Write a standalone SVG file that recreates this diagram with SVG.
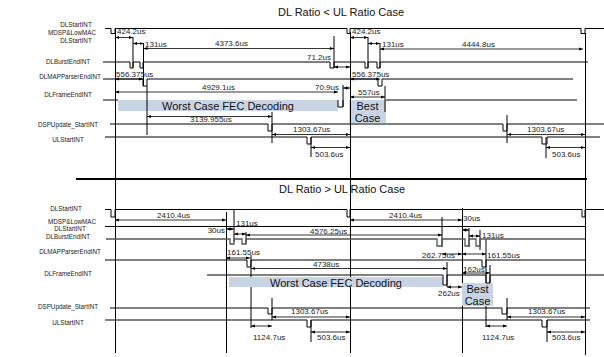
<svg xmlns="http://www.w3.org/2000/svg" width="604" height="357" viewBox="0 0 604 357">
<defs>
<marker id="a" markerWidth="4" markerHeight="4" refX="4" refY="2" orient="auto-start-reverse" markerUnits="userSpaceOnUse"><path d="M0,0.6 L4,2 L0,3.4 z" fill="#000"/></marker>
<style>
.s{fill:none;stroke:#000;stroke-width:1}
.g{fill:none;stroke:#555;stroke-width:1.3}
.d{fill:none;stroke:#000;stroke-width:0.8;marker-start:url(#a);marker-end:url(#a)}
.t{font-family:"Liberation Sans",Arial,sans-serif;font-size:11px;fill:#111;text-anchor:middle}
.l{font-family:"Liberation Sans",Arial,sans-serif;font-size:6.3px;fill:#222;text-anchor:middle}
.m{font-family:"Liberation Sans",Arial,sans-serif;font-size:8px;fill:#222}
.b{fill:#c8d4e4}
</style>
</defs>
<rect width="604" height="357" fill="#fff"/>

<g id="top-title"><text class="t" x="341" y="16">DL Ratio &lt; UL Ratio Case</text></g>
<g id="top-labels">
<text class="l" x="76" y="27">DLStartINT</text>
<text class="l" x="72" y="35">MDSP&amp;LowMAC</text>
<text class="l" x="76" y="42.5">DLStartINT</text>
<text class="l" x="68" y="64">DLBurstEndINT</text>
<text class="l" x="70" y="79">DLMAPParserEndINT</text>
<text class="l" x="68" y="97">DLFrameEndINT</text>
<text class="l" x="68" y="127">DSPUpdate_StartINT</text>
<text class="l" x="68" y="142">ULStartINT</text>
</g>

<g id="top-boxes">
<rect class="b" x="118" y="100" width="220" height="11"/>
<rect class="b" x="349" y="100" width="37" height="23"/>
</g>

<g id="top-signals">
<path class="s" d="M105,28.5H111V33.5H115V28.5H347V33.5H350V28.5H581V33.5H585V28.5H604"/>
<path class="s" d="M103,62H130V68H133V62H140V68H143V62H330V68H334V62H365V68H368V62H377V68H380V62H588"/>
<path class="s" d="M103,79H143V86H147V79H378V86H382V79H573"/>
<path class="s" d="M103,100H118M338,100V107H343V100M386,100H577"/>
<path class="s" d="M110,124H268V131H272V124H503V131H507V124H604"/>
<path class="s" d="M105,137H307V144H311V137H542V144H547V137H600"/>
</g>

<g id="connectors">
<path class="s" d="M115.5,28V353M350.5,32V353M585.5,33V355"/>
<path class="s" d="M76,179H587" style="stroke-width:2"/>
<path class="s" d="M133,37V68M143.5,43V86M147,86V135M334,36V68M343,85V107M368,37V68M380,43V68M385,86V112M272,112V143M311,137V157M507,115V143M546,137V158"/>
<path class="d" d="M115,37.5H133"/>
<path class="d" d="M133,43.5H143.5"/>
<path class="d" d="M143.5,48.5H334"/>
<path class="d" d="M334,67H350"/>
<path class="d" d="M115,79H143"/>
<path class="d" d="M115,92H338"/>
<path class="d" d="M343,88H350"/>
<path class="d" d="M147,116.5H272"/>
<path class="d" d="M272,134.5H350"/>
<path class="d" d="M311,147.5H350"/>
<path class="d" d="M350,37.5H368"/>
<path class="d" d="M368,43.5H380"/>
<path class="d" d="M380,49H583"/>
<path class="d" d="M350,79H380"/>
<path class="d" d="M350,97H385"/>
<path class="d" d="M507,134.5H585"/>
<path class="d" d="M546,147.5H585"/>

<path class="s" d="M226.5,212V353M234,210V242M246,232V244M251,255V328M272,298V320M311,320V342M442,217V247M447,262V287M462.5,208V353M469,228V247M480,230V250M486,239V327M490,265V283M507,298V320M547,320V342"/>
<path class="d" d="M115,220H226"/>
<path class="d" d="M226,229H234"/>
<path class="d" d="M234,234H246"/>
<path class="d" d="M246,235H442"/>
<path class="d" d="M226,258H250"/>
<path class="d" d="M251,268.5H447"/>
<path class="d" d="M251,326H272"/>
<path class="d" d="M272,317H350"/>
<path class="d" d="M311,332H350"/>
<path class="d" d="M350,220H462"/>
<path class="d" d="M462,230H469"/>
<path class="d" d="M469,236H480"/>
<path class="d" d="M442,254H462"/>
<path class="d" d="M462,254H486"/>
<path class="d" d="M462,273H490"/>
<path class="d" d="M447,287H462"/>
<path class="d" d="M486,326H507"/>
<path class="d" d="M507,317H585"/>
<path class="d" d="M547,332H585"/>
</g>

<g id="top-texts">
<text class="m" x="117" y="33.5">424.2us</text>
<text class="m" x="145" y="47">131us</text>
<text class="m" x="215" y="46">4373.6us</text>
<text class="m" x="307" y="60">71.2us</text>
<text class="m" x="116" y="76.5">556.375us</text>
<text class="m" x="202" y="90">4929.1us</text>
<text class="m" x="315" y="90">70.9us</text>
<text class="m" x="190" y="122">3139.955us</text>
<text class="m" x="293" y="132">1303.67us</text>
<text class="m" x="315" y="156.5">503.6us</text>
<text class="m" x="352" y="33.5">424.2us</text>
<text class="m" x="382" y="47">131us</text>
<text class="m" x="462" y="46.5">4444.8us</text>
<text class="m" x="352" y="76.5">556.375us</text>
<text class="m" x="358" y="95">557us</text>
<text class="m" x="527" y="132">1303.67us</text>
<text class="m" x="552" y="156.5">503.6us</text>
<text class="t" x="228" y="110">Worst Case FEC Decoding</text>
<text class="t" x="367.5" y="110">Best</text>
<text class="t" x="367.5" y="122">Case</text>
</g>

<g id="bottom-title"><text class="t" x="342" y="193">DL Ratio &gt; UL Ratio Case</text></g>
<g id="bottom-labels">
<text class="l" x="66" y="210.5">DLStartINT</text>
<text class="l" x="72" y="223.5">MDSP&amp;LowMAC</text>
<text class="l" x="70" y="231">DLStartINT</text>
<text class="l" x="68" y="239">DLBurstEndINT</text>
<text class="l" x="70" y="253.7">DLMAPParserEndINT</text>
<text class="l" x="68" y="275.7">DLFrameEndINT</text>
<text class="l" x="68" y="309">DSPUpdate_StartINT</text>
<text class="l" x="68" y="325">ULStartINT</text>
</g>

<g id="bottom-boxes">
<rect class="b" x="229" y="277" width="214" height="10"/>
<rect class="b" x="462" y="283" width="31" height="23"/>
</g>

<g id="bottom-signals">
<path class="s" d="M105,209.5H111V217H115V209.5H347V217H350V209.5H582V217H585V209.5H604"/>
<path class="s" d="M105,226.5H585"/>
<path class="g" d="M106,239H230V244H234V239H242V244H246V239H437V246H442V239H465V246H469V239H476V246H480V239H585"/>
<path class="s" d="M105,260H247V267H251V260H482V267H486V260H585"/>
<path class="s" d="M207,275H443V285H447V275H486V283H490V275H604"/>
<path class="s" d="M110,308H268V314H272V308H502V314H507V308H590"/>
<path class="s" d="M105,320H307V327H311V320H542V327H547V320H590"/>
</g>

<g id="bottom-texts">
<text class="m" x="157" y="217.5">2410.4us</text>
<text class="m" x="225" y="233" text-anchor="end">30us</text>
<text class="m" x="236" y="225.5">131us</text>
<text class="m" x="310" y="233.5">4576.25us</text>
<text class="m" x="227" y="254.5">161.55us</text>
<text class="m" x="313" y="266.5">4738us</text>
<text class="m" x="253" y="340">1124.7us</text>
<text class="m" x="291" y="314">1303.67us</text>
<text class="m" x="317" y="340">503.6us</text>
<text class="m" x="389" y="217.5">2410.4us</text>
<text class="m" x="463" y="220.5">30us</text>
<text class="m" x="482" y="238">131us</text>
<text class="m" x="422" y="257.5">262.75us</text>
<text class="m" x="487" y="257.5">161.55us</text>
<text class="m" x="463" y="272">162us</text>
<text class="m" x="438" y="296">262us</text>
<text class="m" x="482" y="340">1124.7us</text>
<text class="m" x="528" y="314">1303.67us</text>
<text class="m" x="552" y="340">503.6us</text>
<text class="t" x="336" y="286.5">Worst Case FEC Decoding</text>
<text class="t" x="477.5" y="292.5">Best</text>
<text class="t" x="477.5" y="304.5">Case</text>
</g>
</svg>
